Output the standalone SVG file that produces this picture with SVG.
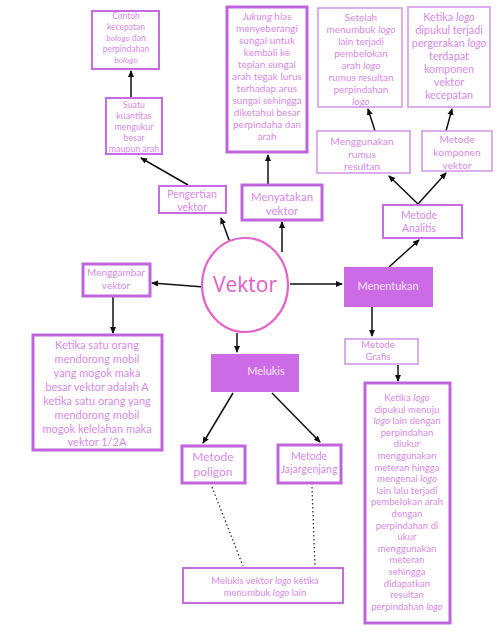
<svg xmlns="http://www.w3.org/2000/svg" width="499" height="639" viewBox="0 0 499 639">
<style>
.bx{fill:#fff;stroke:#c76ce2;stroke-width:2}
.bk{fill:#fff;stroke:#c064de;stroke-width:3}
.bl{fill:#fff;stroke:#d49ae8;stroke-width:1.6}
.fl{fill:#cb6ce6;stroke:none}
.t{font-family:Lato,"Open Sans",sans-serif;fill:#d88ae9;text-anchor:middle}
.w{font-family:Lato,"Open Sans",sans-serif;fill:#f6e3fa;text-anchor:middle}
.i{font-style:italic}
.c{stroke:#111;stroke-width:1.5;fill:none}
.d{stroke:#333;stroke-width:1.3;fill:none;stroke-dasharray:1.5 2.5}
</style>
<defs>
<marker id="a" markerWidth="8" markerHeight="8" refX="6" refY="3.5" orient="auto" markerUnits="userSpaceOnUse">
<path d="M0,0.5 L7,3.5 L0,6.5 Z" fill="#111"/>
</marker>
</defs>
<rect width="499" height="639" fill="#fff"/>
<g id="connectors">
<line class="c" x1="232" y1="248" x2="221" y2="218" marker-end="url(#a)"/>
<line class="c" x1="188" y1="185" x2="141" y2="158" marker-end="url(#a)"/>
<line class="c" x1="131" y1="98" x2="131" y2="71" marker-end="url(#a)"/>
<line class="c" x1="282" y1="252" x2="282" y2="222" marker-end="url(#a)"/>
<line class="c" x1="268" y1="185" x2="268" y2="155" marker-end="url(#a)"/>
<line class="c" x1="204" y1="287" x2="152" y2="283" marker-end="url(#a)"/>
<line class="c" x1="113" y1="297" x2="113" y2="333" marker-end="url(#a)"/>
<line class="c" x1="290" y1="284" x2="342" y2="284" marker-end="url(#a)"/>
<line class="c" x1="389" y1="267" x2="419" y2="240" marker-end="url(#a)"/>
<line class="c" x1="418" y1="204" x2="389" y2="176" marker-end="url(#a)"/>
<line class="c" x1="418" y1="204" x2="446" y2="173" marker-end="url(#a)"/>
<line class="c" x1="375" y1="131" x2="368" y2="109" marker-end="url(#a)"/>
<line class="c" x1="446" y1="131" x2="452" y2="109" marker-end="url(#a)"/>
<line class="c" x1="372" y1="307" x2="372" y2="336" marker-end="url(#a)"/>
<line class="c" x1="398" y1="365" x2="398" y2="381" marker-end="url(#a)"/>
<line class="c" x1="237" y1="333" x2="237" y2="352" marker-end="url(#a)"/>
<line class="c" x1="233" y1="393" x2="203" y2="443" marker-end="url(#a)"/>
<line class="c" x1="272" y1="393" x2="320" y2="442" marker-end="url(#a)"/>
<line class="d" x1="212" y1="487" x2="243" y2="566"/>
<line class="d" x1="312" y1="487" x2="315" y2="566"/>
</g>
<g id="contoh">
<rect class="bx" x="92" y="11" width="67" height="58"/>
<text class="t" font-size="8.5"><tspan x="126" y="19">Contoh</tspan><tspan x="126" y="30">kecepatan</tspan><tspan x="126" y="41"><tspan class="i">bologo</tspan> dan</tspan><tspan x="126" y="52">perpindahan</tspan><tspan x="126" y="63" class="i">bologo</tspan></text>
</g>
<g id="suatu">
<rect class="bx" x="106" y="98" width="56" height="56"/>
<text class="t" font-size="8.8"><tspan x="134" y="108">Suatu</tspan><tspan x="134" y="119">kuantitas</tspan><tspan x="134" y="130">mengukur</tspan><tspan x="134" y="141">besar</tspan><tspan x="134" y="152">maupun arah</tspan></text>
</g>
<g id="jukung">
<rect class="bk" x="227" y="7" width="80" height="145"/>
<text class="t" font-size="10"><tspan x="267" y="20"><tspan class="i">Jukung</tspan> hias</tspan><tspan x="267" y="32">menyeberangi</tspan><tspan x="267" y="44">sungai untuk</tspan><tspan x="267" y="56">kembali ke</tspan><tspan x="267" y="68">tepian sungai</tspan><tspan x="267" y="80">arah tegak lurus</tspan><tspan x="267" y="92">terhadap arus</tspan><tspan x="267" y="104">sungai sehingga</tspan><tspan x="267" y="116">diketahui besar</tspan><tspan x="267" y="128">perpindaha dan</tspan><tspan x="267" y="140">arah</tspan></text>
</g>
<g id="setelah">
<rect class="bl" x="318" y="8" width="84" height="99"/>
<text class="t" font-size="10"><tspan x="361" y="21">Setelah</tspan><tspan x="361" y="33">menumbuk <tspan class="i">logo</tspan></tspan><tspan x="361" y="45">lain terjadi</tspan><tspan x="361" y="57">pembelokan</tspan><tspan x="361" y="69">arah <tspan class="i">logo</tspan></tspan><tspan x="361" y="81">rumus resultan</tspan><tspan x="361" y="93">perpindahan</tspan><tspan x="361" y="105" class="i">logo</tspan></text>
</g>
<g id="ketikalogo">
<rect class="bl" x="408" y="7" width="82" height="100"/>
<text class="t" font-size="10.8"><tspan x="449" y="21">Ketika <tspan class="i">logo</tspan></tspan><tspan x="449" y="34">dipukul terjadi</tspan><tspan x="449" y="47">pergerakan <tspan class="i">logo</tspan></tspan><tspan x="449" y="60">terdapat</tspan><tspan x="449" y="73">komponen</tspan><tspan x="449" y="86">vektor</tspan><tspan x="449" y="99">kecepatan</tspan></text>
</g>
<g id="menggunakan">
<rect class="bl" x="317" y="131" width="93" height="42"/>
<text class="t" font-size="10.2"><tspan x="362" y="145">Menggunakan</tspan><tspan x="362" y="157.5">rumus</tspan><tspan x="362" y="170">resultan</tspan></text>
</g>
<g id="komponen">
<rect class="bl" x="422" y="131" width="70" height="40"/>
<text class="t" font-size="10.2"><tspan x="457" y="143">Metode</tspan><tspan x="457" y="156">komponen</tspan><tspan x="457" y="169">vektor</tspan></text>
</g>
<g id="analitis">
<rect class="bx" x="383" y="205" width="79" height="33"/>
<text class="t" font-size="10.5"><tspan x="419" y="219">Metode</tspan><tspan x="419" y="232">Analitis</tspan></text>
</g>
<g id="pengertian">
<rect class="bx" x="159" y="186" width="67" height="27"/>
<text class="t" font-size="10.5"><tspan x="192" y="198">Pengertian</tspan><tspan x="192" y="211">vektor</tspan></text>
</g>
<g id="menyatakan">
<rect class="bk" x="242" y="185" width="80" height="35"/>
<text class="t" font-size="11.5"><tspan x="282" y="201">Menyatakan</tspan><tspan x="282" y="215">vektor</tspan></text>
</g>
<g id="vektor">
<ellipse cx="245" cy="285" rx="43" ry="47" fill="#fff" stroke="#e563c9" stroke-width="2.2"/>
<text x="245" y="292" font-family="'Open Sans','Noto Sans',sans-serif" font-size="21" fill="#e060c6" text-anchor="middle">Vektor</text>
</g>
<g id="menggambar">
<rect class="bk" x="83" y="264" width="67" height="32"/>
<text class="t" font-size="10"><tspan x="116" y="276">Menggambar</tspan><tspan x="116" y="289">vektor</tspan></text>
</g>
<g id="menentukan">
<rect class="fl" x="344" y="267" width="89" height="40"/>
<text class="w" font-size="11" x="388" y="290">Menentukan</text>
</g>
<g id="ketikaorang">
<rect class="bk" x="33" y="335" width="129" height="115"/>
<text class="t" font-size="11"><tspan x="97" y="349">Ketika satu orang</tspan><tspan x="97" y="363">mendorong mobil</tspan><tspan x="97" y="377">yang mogok maka</tspan><tspan x="97" y="391">besar vektor adalah A</tspan><tspan x="97" y="405">ketika satu orang yang</tspan><tspan x="97" y="419">mendorong mobil</tspan><tspan x="97" y="433">mogok kelelahan maka</tspan><tspan x="97" y="446">vektor 1/2A</tspan></text>
</g>
<g id="melukis">
<rect class="fl" x="211" y="354" width="88" height="38"/>
<text class="w" font-size="11" x="266" y="375">Melukis</text>
</g>
<g id="grafis">
<rect class="bl" x="345" y="339" width="73" height="25"/>
<text class="t" font-size="9.8"><tspan x="378" y="348">Metode</tspan><tspan x="378" y="360">Grafis</tspan></text>
</g>
<g id="tall">
<rect class="bk" x="365" y="383" width="85" height="240"/>
<text class="t" font-size="9.6"><tspan x="407" y="401">Ketika <tspan class="i">logo</tspan></tspan><tspan x="407" y="412.6">dipukul menuju</tspan><tspan x="407" y="424.2"><tspan class="i">logo</tspan>  lain dengan</tspan><tspan x="407" y="435.8">perpindahan</tspan><tspan x="407" y="447.4">diukur</tspan><tspan x="407" y="459">menggunakan</tspan><tspan x="407" y="470.6">meteran hingga</tspan><tspan x="407" y="482.2">mengenai <tspan class="i">logo</tspan></tspan><tspan x="407" y="493.8">lain lalu terjadi</tspan><tspan x="407" y="505.4">pembelokan arah</tspan><tspan x="407" y="517">dengan</tspan><tspan x="407" y="528.6">perpindahan di</tspan><tspan x="407" y="540.2">ukur</tspan><tspan x="407" y="551.8">menggunakan</tspan><tspan x="407" y="563.4">meteran</tspan><tspan x="407" y="575">sehingga</tspan><tspan x="407" y="586.6">didapatkan</tspan><tspan x="407" y="598.2">resultan</tspan><tspan x="407" y="609.8">perpindahan <tspan class="i">logo</tspan></tspan></text>
</g>
<g id="poligon">
<rect class="bk" x="182" y="446" width="63" height="37"/>
<text class="t" font-size="12"><tspan x="213" y="461">Metode</tspan><tspan x="213" y="476">poligon</tspan></text>
</g>
<g id="jajargenjang">
<rect class="bk" x="278" y="445" width="63" height="38"/>
<text class="t" font-size="10.5"><tspan x="309" y="460">Metode</tspan><tspan x="309" y="473">Jajargenjang</tspan></text>
</g>
<g id="melukisvektor">
<rect class="bx" x="183" y="568" width="160" height="35"/>
<text class="t" font-size="9.5"><tspan x="265" y="584">Melukis vektor <tspan class="i">logo</tspan> ketika</tspan><tspan x="265" y="596">menumbuk <tspan class="i">logo</tspan> lain</tspan></text>
</g>
</svg>
